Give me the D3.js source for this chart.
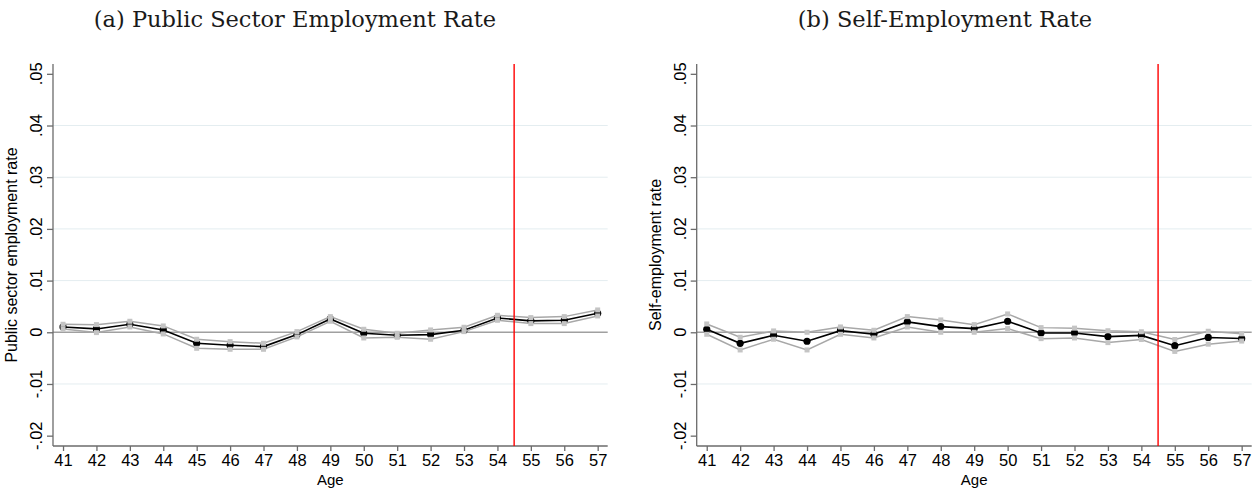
<!DOCTYPE html>
<html>
<head>
<meta charset="utf-8">
<script src="https://cdn.jsdelivr.net/npm/d3@7"></script>
<style>
  body { margin: 0; background: #fff; }
  svg { display: block; }
</style>
</head>
<body>
<div id="chart"></div>
<script>
// ages on the x axis
const ages = [41, 42, 43, 44, 45, 46, 47, 48, 49, 50, 51, 52, 53, 54, 55, 56, 57];
const yTicks = [-0.02, -0.01, 0, 0.01, 0.02, 0.03, 0.04, 0.05];
const cutoffAge = 54.5;

// (a) public sector employment rate: estimate and 95% band
const publicEst = [0.00103, 0.00065, 0.00155, 0.00045, -0.00213, -0.00252, -0.00277, -0.00045, 0.00258,
                   -0.0002, -0.00058, -0.00045, 0.00039, 0.00277, 0.0022, 0.00232, 0.00368];
const publicHi  = [0.00155, 0.00148, 0.00213, 0.00123, -0.00135, -0.00181, -0.00213, 0.00013, 0.00303,
                   0.00058, -0.00019, 0.00045, 0.00097, 0.00329, 0.00284, 0.00303, 0.00432];
const publicLo  = [0.00065, -0.00006, 0.00103, -0.00032, -0.0031, -0.00329, -0.00329, -0.0009, 0.00213,
                   -0.0011, -0.00097, -0.00135, 0.00013, 0.00232, 0.00168, 0.00168, 0.00316];

// (b) self-employment rate
const selfEst = [0.00058, -0.00213, -0.00058, -0.00174, 0.00032, -0.00039, 0.002, 0.0011, 0.00071,
                 0.00213, -0.00013, -0.00013, -0.00084, -0.0006, -0.0026, -0.001, -0.0012];
const selfHi  = [0.00161, -0.00097, 0.00026, 0.0, 0.00103, 0.00039, 0.00303, 0.00239, 0.00148,
                 0.00355, 0.0009, 0.0008, 0.0003, 0.0001, -0.0014, 0.0002, -0.0003];
const selfLo  = [-0.00039, -0.00342, -0.00135, -0.00342, -0.00039, -0.0011, 0.00103, 0.0, 0.0,
                 0.00071, -0.00123, -0.0011, -0.002, -0.0014, -0.0037, -0.0023, -0.0017];

const W = 1255, H = 489;
const svg = d3.select('#chart').append('svg').attr('width', W).attr('height', H);
const SANS = 'Liberation Sans, Arial, sans-serif';

// stata style: .05, 0, -.01
const fmtTick = v => {
  if (v === 0) return '0';
  return d3.format('.2f')(v).replace('\u2212', '-').replace('0.', '.');
};

function drawPanel(opt) {
  const top = 64, bottom = 446;
  const x = d3.scaleLinear().domain([40.7, 57.3]).range([opt.left, opt.right]);
  const y = d3.scaleLinear().domain([-0.022, 0.0519]).range([bottom, top]);
  const g = svg.append('g');

  // grid
  g.append('g').selectAll('line')
    .data(yTicks.filter(t => t !== 0 && t > -0.02 && t < 0.05)).join('line')
    .attr('x1', opt.left).attr('x2', opt.right)
    .attr('y1', d => y(d)).attr('y2', d => y(d))
    .attr('stroke', '#e4edf0').attr('stroke-width', 1);

  // zero line
  g.append('line')
    .attr('x1', opt.left).attr('x2', opt.right)
    .attr('y1', y(0)).attr('y2', y(0))
    .attr('stroke', '#a0a0a0').attr('stroke-width', 1.4);

  // y axis
  const yAxis = g.append('g').attr('transform', `translate(${opt.left},0)`)
    .call(d3.axisLeft(y).tickValues(yTicks).tickSize(6).tickFormat(''));
  yAxis.select('.domain').attr('d', `M0,${top}V${bottom}`);
  yAxis.selectAll('line, path').attr('stroke', '#6b6b6b').attr('stroke-width', 1.3);
  g.append('g').selectAll('text')
    .data(yTicks).join('text')
    .attr('transform', d => `translate(${opt.left - 11},${y(d)}) rotate(-90)`)
    .attr('text-anchor', 'middle')
    .attr('font-family', SANS)
    .attr('font-size', '16.5px').attr('fill', '#000')
    .text(fmtTick);

  // x axis
  const xAxis = g.append('g').attr('transform', `translate(0,${bottom})`)
    .call(d3.axisBottom(x).tickValues(ages).tickSize(5).tickPadding(3).tickFormat(d3.format('d')));
  xAxis.select('.domain').attr('d', `M${opt.left},0H${opt.right}`);
  xAxis.selectAll('line, path').attr('stroke', '#6b6b6b').attr('stroke-width', 1.3);
  xAxis.selectAll('text')
    .attr('font-family', SANS)
    .attr('font-size', '16.5px').attr('fill', '#000');

  // axis titles
  g.append('text')
    .attr('x', (opt.left + opt.right) / 2).attr('y', 485)
    .attr('text-anchor', 'middle')
    .attr('font-family', SANS)
    .attr('font-size', '15px').text('Age');
  g.append('text')
    .attr('transform', `translate(${opt.left - 36},${(top + bottom) / 2}) rotate(-90)`)
    .attr('text-anchor', 'middle')
    .attr('font-family', SANS)
    .attr('font-size', '16px').text(opt.ylabel);

  // panel title
  svg.append('text')
    .attr('x', opt.titleX).attr('y', 27)
    .attr('text-anchor', 'middle')
    .attr('font-family', 'DejaVu Serif, serif')
    .attr('font-size', '22.5px').attr('fill', '#1a1a1a')
    .text(opt.title);

  const pts = arr => ages.map((a, i) => [x(a), y(arr[i])]);
  const line = d3.line();

  // estimate
  g.append('path').attr('d', line(pts(opt.est)))
    .attr('fill', 'none').attr('stroke', '#000').attr('stroke-width', 1.6);
  g.append('g').selectAll('circle')
    .data(pts(opt.est)).join('circle')
    .attr('cx', d => d[0]).attr('cy', d => d[1]).attr('r', 3.6).attr('fill', '#000');

  // confidence bands (drawn on top)
  [opt.hi, opt.lo].forEach(arr => {
    g.append('path').attr('d', line(pts(arr)))
      .attr('fill', 'none').attr('stroke', '#a8a8a8').attr('stroke-width', 1.5);
    g.append('g').selectAll('rect')
      .data(pts(arr)).join('rect')
      .attr('x', d => d[0] - 2.5).attr('y', d => d[1] - 2.5)
      .attr('width', 5).attr('height', 5).attr('fill', '#c4c4c4');
  });

  // cutoff
  g.append('line')
    .attr('x1', x(cutoffAge)).attr('x2', x(cutoffAge))
    .attr('y1', top).attr('y2', bottom)
    .attr('stroke', '#ff0000').attr('stroke-width', 1.4);
}

drawPanel({
  left: 53, right: 607.7, titleX: 295,
  title: '(a) Public Sector Employment Rate',
  ylabel: 'Public sector employment rate',
  est: publicEst, hi: publicHi, lo: publicLo
});

drawPanel({
  left: 696.7, right: 1251.7, titleX: 945,
  title: '(b) Self-Employment Rate',
  ylabel: 'Self-employment rate',
  est: selfEst, hi: selfHi, lo: selfLo
});
</script>
</body>
</html>
